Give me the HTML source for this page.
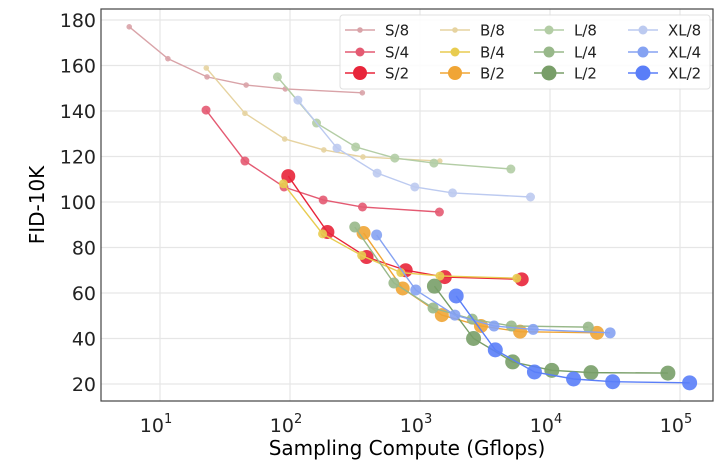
<!DOCTYPE html>
<html><head><meta charset="utf-8"><style>
html,body{margin:0;padding:0;background:#fff;}
svg{display:block;font-family:"DejaVu Sans","Liberation Sans",sans-serif;}
</style></head><body>
<svg id="chart" width="720" height="464" viewBox="0 0 720 464" xmlns="http://www.w3.org/2000/svg">
<g id="grid"></g>
<g id="series"></g>
<rect x="101" y="9" width="612" height="392" fill="none" stroke="#444" stroke-width="1.2"/>
<g id="ticks"></g>
<text x="44" y="205" font-size="20" text-anchor="middle" transform="rotate(-90 44 205)">FID-10K</text>
<text x="407" y="455" font-size="20" text-anchor="middle">Sampling Compute (Gflops)</text>
<g id="legend"></g>
</svg>
<script>
const seriesNames = ["S/8","S/4","S/2","B/8","B/4","B/2","L/8","L/4","L/2","XL/8","XL/4","XL/2"];
const computeS8 = [5.8,11.5,23,46,92,360];
const fidS8 = [177,163,155,151.4,149.7,148];
const computeS4 = [22.6,45,90,180,361,1410];
const fidS4 = [140.4,118,106.6,100.9,97.8,95.6];
const computeS2 = [97,194,388,776,1551,6060];
const fidS2 = [111.4,86.8,75.8,70,67,66];
const computeB8 = [22.7,45,91,182,364,1420];
const fidB8 = [158.9,139,127.7,122.9,119.8,118];
const computeB4 = [89,178,356,712,1424,5560];
const fidB4 = [108,86,76.5,69,67.5,66.5];
const computeB2 = [368,736,1472,2944,5888,23000];
const fidB2 = [86.4,62,50.3,45.5,43,42.5];
const computeL8 = [80,160,320,640,1280,5000];
const fidL8 = [155,134.7,124.2,119.3,117.1,114.5];
const computeL4 = [315,630,1260,2520,5040,19700];
const fidL4 = [89,64.4,53.4,48.5,45.5,45];
const computeL2 = [1291,2582,5164,10328,20656,80700];
const fidL2 = [63,40,29.7,26,25,24.8];
const computeXL8 = [115,230,468,912,1780,7080];
const fidXL8 = [144.8,123.7,112.7,106.6,104,102.2];
const computeXL4 = [464,928,1856,3712,7424,29000];
const fidXL4 = [85.5,61.3,50.3,45.5,44,42.5];
const computeXL2 = [1898,3795,7590,15180,30360,118600];
const fidXL2 = [58.7,35,25.3,22.2,21,20.5];
const yTicks = [20,40,60,80,100,120,140,160,180];
const xTickExps = [1,2,3,4,5];

const seriesX = [computeS8,computeS4,computeS2,computeB8,computeB4,computeB2,computeL8,computeL4,computeL2,computeXL8,computeXL4,computeXL2];
const seriesY = [fidS8,fidS4,fidS2,fidB8,fidB4,fidB2,fidL8,fidL4,fidL2,fidXL8,fidXL4,fidXL2];
const colors = ["#d9a3a8","#e45a72","#e8253a","#e6d3a0","#e8cc50","#f0a535","#b3cda5","#98b88a","#789e68","#bccaf0","#85a2f2","#5a7ef8"];
const radii = [2.8,4.5,7,2.8,4.5,7,4.5,5.5,7.5,4.5,5.5,7.5];
const NS="http://www.w3.org/2000/svg";
function xs(v){return 160+130*(Math.log10(v)-1);}
function ys(v){return 384-(v-20)*2.275;}
function mk(tag,attrs,parent){const e=document.createElementNS(NS,tag);for(const k in attrs)e.setAttribute(k,attrs[k]);parent.appendChild(e);return e;}
const grid=document.getElementById('grid'),ticks=document.getElementById('ticks'),ser=document.getElementById('series'),leg=document.getElementById('legend');
yTicks.forEach(t=>{
  const l=mk('line',{x1:101,x2:713,y1:ys(t),y2:ys(t),stroke:'#e6e6e6','stroke-width':1.2},grid);
  
  
  const tx=mk('text',{x:96,y:ys(t)+7,'font-size':19,'text-anchor':'end',fill:'#222'},ticks);
  tx.textContent=t;
  
  
});
xTickExps.forEach(e=>{
  const x=xs(Math.pow(10,e));
  const l=mk('line',{x1:x,x2:x,y1:9,y2:401,stroke:'#e6e6e6','stroke-width':1.2},grid);
  
  
  const tx=mk('text',{x:x-4,y:432,'font-size':19,'text-anchor':'middle',fill:'#222'},ticks);
  tx.textContent='10';
  
  
  const sp=mk('tspan',{dy:-9,'font-size':13},tx);
  sp.textContent=e;
});
seriesNames.forEach((n,i)=>{
  const g=mk('g',{},ser);
  
  
  const pts=seriesX[i].map((v,j)=>xs(v)+','+ys(seriesY[i][j])).join(' ');
  mk('polyline',{points:pts,fill:'none',stroke:colors[i],'stroke-width':1.4},g);
  seriesX[i].forEach((v,j)=>{
    const c=mk('circle',{cx:xs(v),cy:ys(seriesY[i][j]),r:radii[i],fill:colors[i],'fill-opacity':0.9},g);
    
    
  });
});
mk('rect',{x:340,y:15,width:370,height:74,fill:'#fff','fill-opacity':0.85,stroke:'#e0e0e0',rx:3},leg);
const colX=[345,440,534,628];
const rowY=[30,52,73];
seriesNames.forEach((n,i)=>{
  const c=Math.floor(i/3),r=i%3;
  const x=colX[c],y=rowY[r];
  const g=mk('g',{},leg);
  
  
  mk('line',{x1:x,x2:x+30,y1:y,y2:y,stroke:colors[i],'stroke-width':1.6},g);
  mk('circle',{cx:x+15,cy:y,r:radii[i],fill:colors[i]},g);
  const t=mk('text',{x:x+40,y:y+5.5,'font-size':15,fill:'#222'},g);
  t.textContent=n;
});
</script>
</body></html>
